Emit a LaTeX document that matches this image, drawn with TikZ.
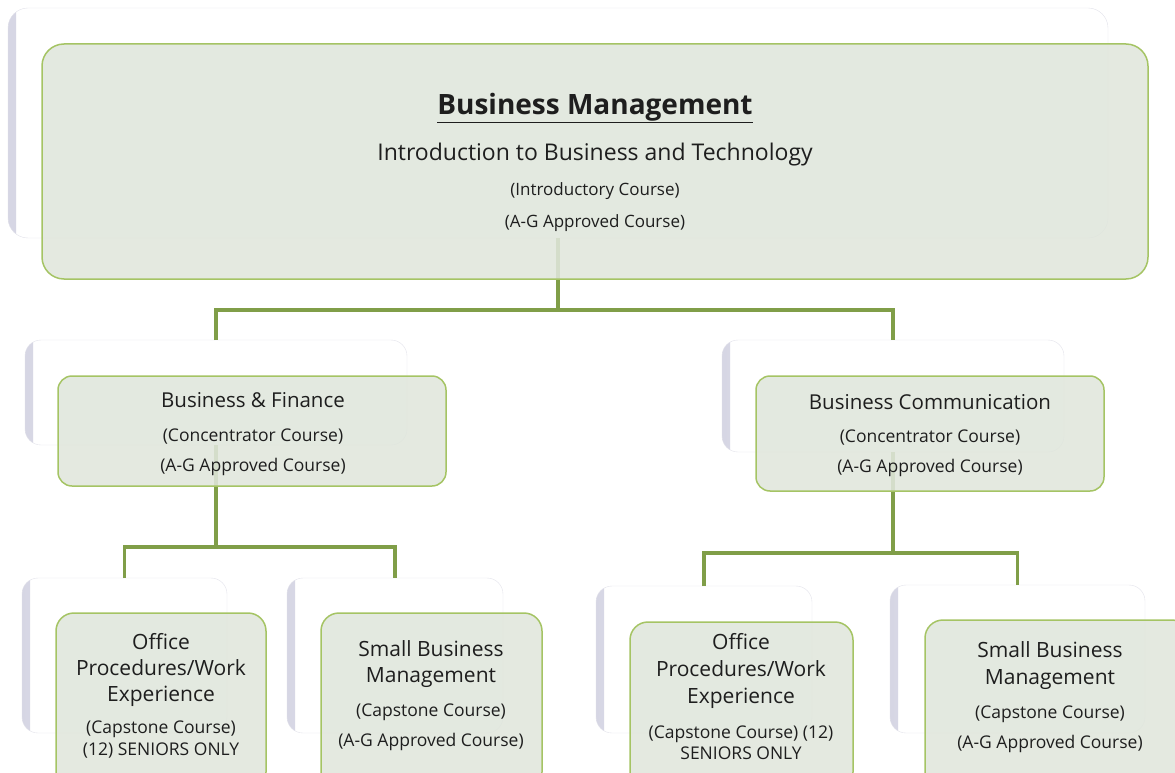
\documentclass[tikz,border=0pt]{standalone}
\usepackage{fontspec}
\setmainfont{Open Sans}
\usetikzlibrary{positioning,calc}

\definecolor{boxfill}{RGB}{224,230,220}
\definecolor{boxline}{RGB}{165,196,100}
\definecolor{linkgreen}{RGB}{128,158,72}
\definecolor{backline}{RGB}{226,226,234}
\definecolor{backshade}{RGB}{214,214,228}
\definecolor{inktext}{RGB}{30,30,30}

\newcommand{\setfs}[2]{\fontsize{#1}{#2}\selectfont}

\tikzstyle{backbox}=[draw=backline, fill=white, rounded corners=16pt,
  path picture={\fill[sharp corners, left color=backshade, right color=white]
    (path picture bounding box.south west) rectangle
    ([xshift=8pt]path picture bounding box.north west);}]
\tikzstyle{greenbox}=[draw=boxline, line width=1.5pt, fill=boxfill,
  fill opacity=0.88, rounded corners=18pt]
\tikzstyle{link}=[draw=linkgreen, line width=3.5pt]
\tikzstyle{words}=[text=inktext, align=center]

\begin{document}
\begin{tikzpicture}[x=1pt, y=-1pt,
  every node/.style={inner sep=0pt, outer sep=0pt}]

\useasboundingbox (0,0) rectangle (1175,773);

%%% Back Boxes

\node [backbox, rounded corners=20pt, minimum width=1100pt, minimum height=230pt]
  (bmback) at (558,123) {};

\node [backbox, minimum width=382pt, minimum height=105pt] (bfback) at (216,392.5) {};
\node [backbox, minimum width=342pt, minimum height=112pt] (bcback) at (893,396) {};

\node [backbox, minimum width=205pt, minimum height=155pt] (opLback) at (124.5,655.5) {};
\node [backbox, minimum width=216pt, minimum height=155pt] (sbLback) at (395,655.5) {};
\node [backbox, minimum width=216pt, minimum height=147pt] (opRback) at (704,659.5) {};
\node [backbox, minimum width=255pt, minimum height=148pt] (sbRback) at (1017.5,659) {};

%%% Connectors

\draw [link] (bmback.south) -- ++(0,72) coordinate (topfork);
\draw [link] (bfback.north) |- (topfork) -| (bcback.north);

\draw [link] (bfback.south) -- ++(0,102) coordinate (leftfork);
\draw [link] (opLback.north) |- (leftfork) -| (sbLback.north);

\draw [link] (bcback.south) -- ++(0,101) coordinate (rightfork);
\draw [link] (opRback.north) |- (rightfork) -| (sbRback.north);

%%% Green Boxes

\node [greenbox, rounded corners=22pt, minimum width=1106pt, minimum height=235pt]
  (bm) at (595,161.5) {};

\node [greenbox, rounded corners=14pt, minimum width=388pt, minimum height=110pt] (bf) at (252,431) {};
\node [greenbox, rounded corners=14pt, minimum width=348pt, minimum height=115pt] (bc) at (930,433.5) {};

\node [greenbox, minimum width=210pt, minimum height=177pt] (opL) at (161,701.5) {};
\node [greenbox, minimum width=221pt, minimum height=177pt] (sbL) at (431.5,701.5) {};
\node [greenbox, minimum width=223pt, minimum height=168pt] (opR) at (741.5,706) {};
\node [greenbox, minimum width=265pt, minimum height=170pt] (sbR) at (1057.5,705) {};

%%% Texts

% Business Management
\node [words, font=\setfs{28}{32}\bfseries] (bm-title) at (595,108) {\underline{Business Management}};
\node [words, font=\setfs{23}{26}] (bm-intro) at (595,155) {Introduction to Business and Technology};
\node [words, font=\setfs{17}{32}] (bm-sub) at (595,207)
  {(Introductory Course)\\(A-G Approved Course)};

% Business & Finance
\node [words, font=\setfs{20.5}{24}] (bf-title) at (253,400) {Business \& Finance};
\node [words, font=\setfs{17.5}{30}] (bf-sub) at (253,452)
  {(Concentrator Course)\\(A-G Approved Course)};

% Business Communication
\node [words, font=\setfs{20.5}{24}] (bc-title) at (930,402) {Business Communication};
\node [words, font=\setfs{17.5}{30}] (bc-sub) at (930,453)
  {(Concentrator Course)\\(A-G Approved Course)};

% Office Procedures (left)
\node [words, font=\setfs{21}{26}] (opL-title) at (161,670)
  {Office\\Procedures/Work\\Experience};
\node [words, font=\setfs{17.5}{22}] (opL-sub) at (161,740)
  {(Capstone Course)\\(12) SENIORS ONLY};

% Small Business Management (left)
\node [words, font=\setfs{21}{26}] (sbL-title) at (431,664)
  {Small Business\\Management};
\node [words, font=\setfs{17.5}{30}] (sbL-sub) at (431,727)
  {(Capstone Course)\\(A-G Approved Course)};

% Office Procedures (right)
\node [words, font=\setfs{21}{27}] (opR-title) at (741,671)
  {Office\\Procedures/Work\\Experience};
\node [words, font=\setfs{17.5}{21}] (opR-sub) at (741,742.5)
  {(Capstone Course) (12)\\SENIORS ONLY};

% Small Business Management (right)
\node [words, font=\setfs{21}{27}] (sbR-title) at (1050,665.5)
  {Small Business\\Management};
\node [words, font=\setfs{17.5}{30}] (sbR-sub) at (1050,729)
  {(Capstone Course)\\(A-G Approved Course)};

\end{tikzpicture}
\end{document}
